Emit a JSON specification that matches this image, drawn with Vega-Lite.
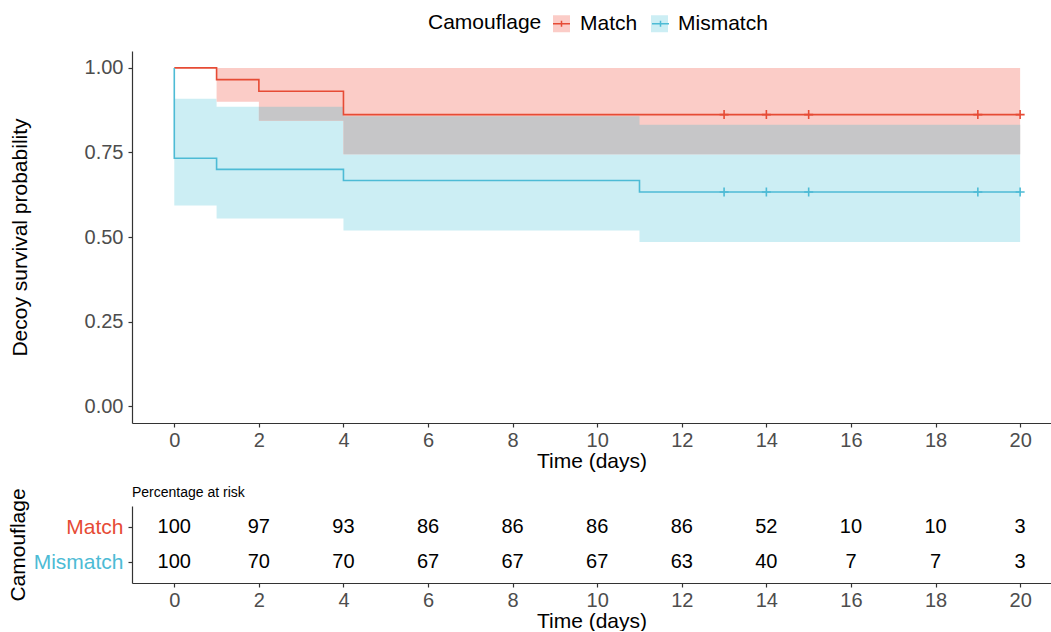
{
  "$schema": "https://vega.github.io/schema/vega-lite/v6.json",
  "background": "white",
  "padding": {"left": 7, "top": 13, "right": 0, "bottom": 0},
  "spacing": 14,
  "config": {
    "font": "Liberation Sans",
    "view": {"stroke": null},
    "axis": {
      "grid": false,
      "domainColor": "#333333",
      "tickColor": "#333333",
      "labelColor": "#4D4D4D",
      "labelFontSize": 20,
      "titleFontSize": 21,
      "titleFontWeight": "normal",
      "titleColor": "#000000",
      "tickSize": 4,
      "domainWidth": 1.2,
      "tickWidth": 1.2
    },
    "axisX": {"labelPadding": 3, "titlePadding": 0},
    "axisY": {"labelPadding": 5},
    "legend": {
      "labelFontSize": 21,
      "titleFontSize": 21,
      "titleFontWeight": "normal",
      "titleColor": "#000000",
      "labelColor": "#000000"
    }
  },
  "datasets": {
    "surv": [
      {"group": "Match", "time": 0, "surv": 1.0},
      {"group": "Match", "time": 1, "surv": 0.9655},
      {"group": "Match", "time": 2, "surv": 0.931},
      {"group": "Match", "time": 4, "surv": 0.862},
      {"group": "Match", "time": 20, "surv": 0.862},
      {"group": "Mismatch", "time": 0, "surv": 1.0},
      {"group": "Mismatch", "time": 0, "surv": 0.733},
      {"group": "Mismatch", "time": 1, "surv": 0.7},
      {"group": "Mismatch", "time": 4, "surv": 0.667},
      {"group": "Mismatch", "time": 11, "surv": 0.633},
      {"group": "Mismatch", "time": 20, "surv": 0.633}
    ],
    "censor": [
      {"group": "Match", "time": 13, "surv": 0.862},
      {"group": "Match", "time": 14, "surv": 0.862},
      {"group": "Match", "time": 15, "surv": 0.862},
      {"group": "Match", "time": 19, "surv": 0.862},
      {"group": "Match", "time": 20, "surv": 0.862},
      {"group": "Mismatch", "time": 13, "surv": 0.633},
      {"group": "Mismatch", "time": 14, "surv": 0.633},
      {"group": "Mismatch", "time": 15, "surv": 0.633},
      {"group": "Mismatch", "time": 19, "surv": 0.633},
      {"group": "Mismatch", "time": 20, "surv": 0.633}
    ],
    "bands": [
      {"group": "Mismatch", "time": 0, "lower": 0.593, "upper": 0.909},
      {"group": "Mismatch", "time": 1, "lower": 0.555, "upper": 0.885},
      {"group": "Mismatch", "time": 4, "lower": 0.519, "upper": 0.857},
      {"group": "Mismatch", "time": 11, "lower": 0.485, "upper": 0.832},
      {"group": "Mismatch", "time": 20, "lower": 0.485, "upper": 0.832},
      {"group": "Match", "time": 1, "lower": 0.9, "upper": 1.0},
      {"group": "Match", "time": 2, "lower": 0.844, "upper": 1.0},
      {"group": "Match", "time": 4, "lower": 0.745, "upper": 1.0},
      {"group": "Match", "time": 20, "lower": 0.745, "upper": 1.0}
    ],
    "overlap": [
      {"time": 2, "lower": 0.844, "upper": 0.885},
      {"time": 4, "lower": 0.745, "upper": 0.857},
      {"time": 11, "lower": 0.745, "upper": 0.832},
      {"time": 20, "lower": 0.745, "upper": 0.832}
    ],
    "risk": [
      {"group": "Match", "time": 0, "pct": 100},
      {"group": "Match", "time": 2, "pct": 97},
      {"group": "Match", "time": 4, "pct": 93},
      {"group": "Match", "time": 6, "pct": 86},
      {"group": "Match", "time": 8, "pct": 86},
      {"group": "Match", "time": 10, "pct": 86},
      {"group": "Match", "time": 12, "pct": 86},
      {"group": "Match", "time": 14, "pct": 52},
      {"group": "Match", "time": 16, "pct": 10},
      {"group": "Match", "time": 18, "pct": 10},
      {"group": "Match", "time": 20, "pct": 3},
      {"group": "Mismatch", "time": 0, "pct": 100},
      {"group": "Mismatch", "time": 2, "pct": 70},
      {"group": "Mismatch", "time": 4, "pct": 70},
      {"group": "Mismatch", "time": 6, "pct": 67},
      {"group": "Mismatch", "time": 8, "pct": 67},
      {"group": "Mismatch", "time": 10, "pct": 67},
      {"group": "Mismatch", "time": 12, "pct": 63},
      {"group": "Mismatch", "time": 14, "pct": 40},
      {"group": "Mismatch", "time": 16, "pct": 7},
      {"group": "Mismatch", "time": 18, "pct": 7},
      {"group": "Mismatch", "time": 20, "pct": 3}
    ]
  },
  "vconcat": [
    {
      "width": 919,
      "height": 372,
      "encoding": {
        "x": {
          "field": "time",
          "type": "quantitative",
          "scale": {"domain": [-1, 20.73], "nice": false, "zero": false},
          "axis": {"values": [0, 2, 4, 6, 8, 10, 12, 14, 16, 18, 20], "title": "Time (days)"}
        }
      },
      "layer": [
        {
          "data": {"name": "bands"},
          "mark": {"type": "area", "interpolate": "step-after", "opacity": 1},
          "encoding": {
            "y": {
              "field": "lower",
              "type": "quantitative",
              "scale": {"domain": [-0.05, 1.05], "nice": false, "zero": false},
              "axis": {"values": [0, 0.25, 0.5, 0.75, 1], "format": ".2f", "title": "Decoy survival probability", "titlePadding": 54}
            },
            "y2": {"field": "upper"},
            "fill": {
              "field": "group",
              "type": "nominal",
              "scale": {"domain": ["Match", "Mismatch"], "range": ["#FBCCC7", "#CCEEF4"]},
              "legend": {
                "orient": "none",
                "legendX": 296,
                "legendY": -38,
                "direction": "horizontal",
                "titleOrient": "left",
                "title": "Camouflage",
                "symbolType": "square",
                "symbolSize": 289,
                "symbolStrokeWidth": 0,
                "symbolOpacity": 1,
                "labelOffset": 8,
                "columnPadding": 11,
                "titlePadding": 9
              }
            }
          }
        },
        {
          "data": {"name": "overlap"},
          "mark": {"type": "area", "interpolate": "step-after", "fill": "#C6C6C8", "opacity": 1},
          "encoding": {
            "y": {"field": "lower", "type": "quantitative"},
            "y2": {"field": "upper"}
          }
        },
        {
          "data": {"name": "surv"},
          "mark": {"type": "line", "interpolate": "step-after", "strokeWidth": 1.6},
          "encoding": {
            "y": {"field": "surv", "type": "quantitative"},
            "order": [{"field": "time", "sort": "ascending"}, {"field": "surv", "sort": "descending"}],
            "stroke": {
              "field": "group",
              "type": "nominal",
              "scale": {"range": ["#E64B35", "#4DBBD5"]},
              "legend": {
                "orient": "none",
                "legendX": 296,
                "legendY": -38,
                "direction": "horizontal",
                "titleOrient": "left",
                "title": "Camouflage",
                "symbolType": "M-1,0H1M0,-0.35V0.35",
                "symbolSize": 289,
                "symbolStrokeWidth": 1.5,
                "labelOffset": 8,
                "columnPadding": 11,
                "titlePadding": 9,
                "labelOpacity": 0,
                "titleOpacity": 0
              }
            }
          }
        },
        {
          "data": {"name": "censor"},
          "mark": {"type": "point", "shape": "M-1,0H1M0,-1V1", "filled": false, "size": 81, "strokeWidth": 1.6, "opacity": 1},
          "encoding": {
            "y": {"field": "surv", "type": "quantitative"},
            "stroke": {
              "field": "group",
              "type": "nominal",
              "legend": {
                "orient": "none",
                "legendX": 296,
                "legendY": -38,
                "direction": "horizontal",
                "titleOrient": "left",
                "title": "Camouflage",
                "symbolType": "M-1,0H1M0,-0.35V0.35",
                "symbolSize": 289,
                "symbolStrokeWidth": 1.5,
                "labelOffset": 8,
                "columnPadding": 11,
                "titlePadding": 9,
                "labelOpacity": 0,
                "titleOpacity": 0
              }
            }
          }
        },
        {
          "mark": {"type": "text", "text": "Log-rank", "align": "left", "baseline": "middle", "fontSize": 14, "color": "#000000"},
          "encoding": {"x": {"datum": 0.4}, "y": {"datum": 0.295}}
        },
        {
          "mark": {"type": "text", "text": "p = 0.036", "align": "left", "baseline": "middle", "fontSize": 14, "color": "#000000"},
          "encoding": {"x": {"datum": 0.4}, "y": {"datum": 0.195}}
        }
      ]
    },
    {
      "width": 919,
      "height": 77,
      "title": {"text": "Percentage at risk", "anchor": "start", "frame": "group", "fontSize": 14, "fontWeight": "normal", "color": "#000000", "offset": -12},
      "data": {"name": "risk"},
      "mark": {"type": "text", "fontSize": 20, "color": "#000000"},
      "encoding": {
        "x": {
          "field": "time",
          "type": "quantitative",
          "scale": {"domain": [-1, 20.73], "nice": false, "zero": false},
          "axis": {"values": [0, 2, 4, 6, 8, 10, 12, 14, 16, 18, 20], "title": "Time (days)"}
        },
        "y": {
          "field": "group",
          "type": "nominal",
          "scale": {"type": "point", "padding": 0.6, "domain": ["Match", "Mismatch"]},
          "axis": {
            "title": "Camouflage",
            "titlePadding": 5,
            "labelFontSize": 21,
            "labelColor": {"condition": {"test": "datum.value === 'Match'", "value": "#E64B35"}, "value": "#4DBBD5"}
          }
        },
        "text": {"field": "pct", "type": "quantitative"}
      }
    }
  ],
  "resolve": {"scale": {"x": "independent", "y": "independent"}}
}
